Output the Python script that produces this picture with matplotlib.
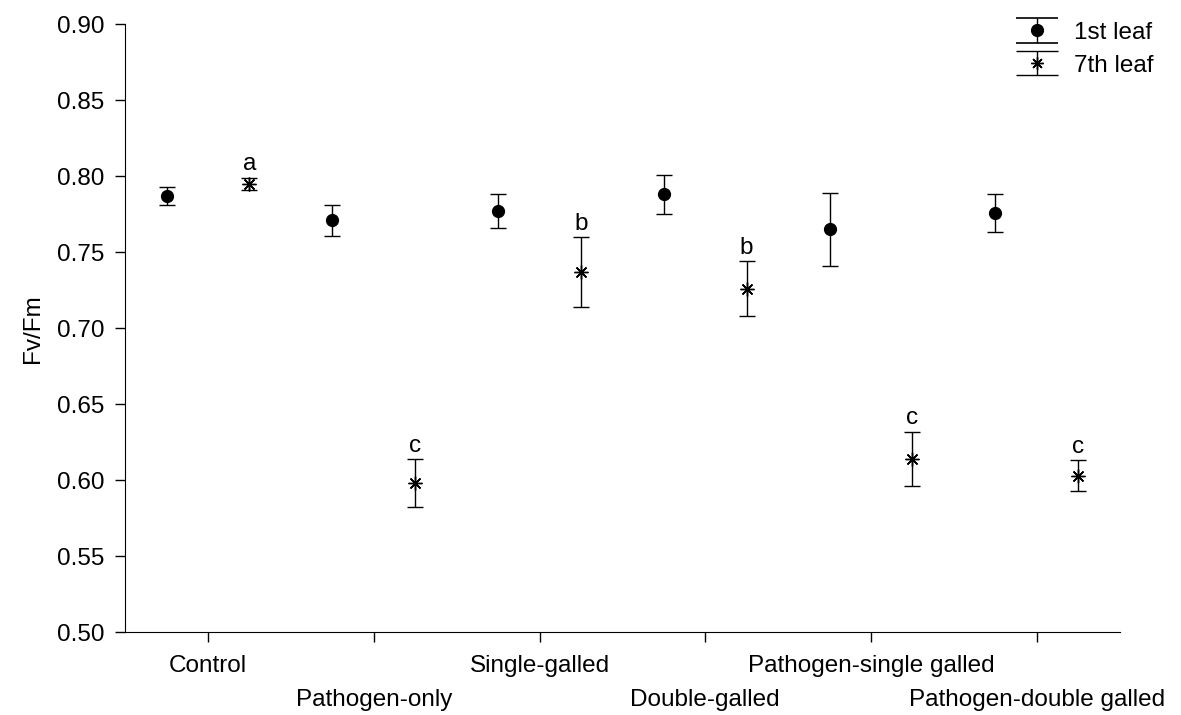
import numpy as np
import matplotlib.pyplot as plt
from matplotlib.container import ErrorbarContainer
from matplotlib.legend_handler import HandlerErrorbar

plt.rcParams['font.family'] = ['Liberation Sans', 'DejaVu Sans']

# data
groups = ['Control', 'Pathogen-only', 'Single-galled', 'Double-galled',
          'Pathogen-single galled', 'Pathogen-double galled']
leaf1 = [0.787, 0.771, 0.777, 0.788, 0.765, 0.776]
leaf1_err = [0.006, 0.010, 0.011, 0.013, 0.024, 0.0125]
leaf7 = [0.795, 0.598, 0.737, 0.726, 0.614, 0.603]
leaf7_err = [0.004, 0.016, 0.023, 0.018, 0.018, 0.010]
letters = ['a', 'c', 'b', 'b', 'c', 'c']

star = (8, 2, 0)
fs = 17.5

fig = plt.figure(figsize=(11.81, 7.15), dpi=100)
ax = fig.add_axes([0.106, 0.116, 0.842, 0.850])

x = np.arange(len(groups))
ax.errorbar(x - 0.25, leaf1, yerr=leaf1_err, fmt='o', color='black',
            markersize=8.5, capsize=6, elinewidth=1, capthick=1)
ax.errorbar(x + 0.25, leaf7, yerr=leaf7_err, fmt='', marker=star,
            linestyle='none', color='black', markersize=10, markeredgewidth=1,
            capsize=6, elinewidth=1, capthick=1)

for xi, v, e, t in zip(x, leaf7, leaf7_err, letters):
    ax.text(xi + 0.25, v + e + 0.0015, t, ha='center', va='bottom', fontsize=fs)

# legend proxies with wide caps, like the original
p1 = ax.errorbar([np.nan], [np.nan], yerr=[0.01], fmt='o', color='black',
                 markersize=8.5, capsize=15, elinewidth=1, capthick=1.2,
                 label='1st leaf')
p7 = ax.errorbar([np.nan], [np.nan], yerr=[0.01], fmt='', marker=star,
                 linestyle='none', color='black', markersize=9,
                 markeredgewidth=1, capsize=15, elinewidth=1, capthick=1.2,
                 label='7th leaf')

ax.set_xlim(-0.5, 5.5)
ax.set_ylim(0.50, 0.90)
ticks = np.arange(0.50, 0.901, 0.05)
ax.set_yticks(ticks)
ax.set_yticklabels(['%.2f' % v for v in ticks])
ax.set_xticks(x)
ax.set_xticklabels(groups)
ax.tick_params(axis='both', labelsize=fs, length=7, width=1, direction='out')
ax.tick_params(axis='y', pad=8)
# staggered category labels: odd ones sit one row lower
for i, tk in enumerate(ax.xaxis.get_major_ticks()):
    tk.set_pad(9.5 if i % 2 == 0 else 34)
ax.set_ylabel('Fv/Fm', fontsize=fs, labelpad=9)

ax.spines['top'].set_visible(False)
ax.spines['right'].set_visible(False)

ax.legend(handles=[p1, p7], loc='upper right', bbox_to_anchor=(1.056, 1.04),
          frameon=False, fontsize=fs, handlelength=2.0, labelspacing=0.45,
          handletextpad=0.5,
          handler_map={ErrorbarContainer: HandlerErrorbar(yerr_size=0.5)})

plt.savefig('out.png', dpi=100)
